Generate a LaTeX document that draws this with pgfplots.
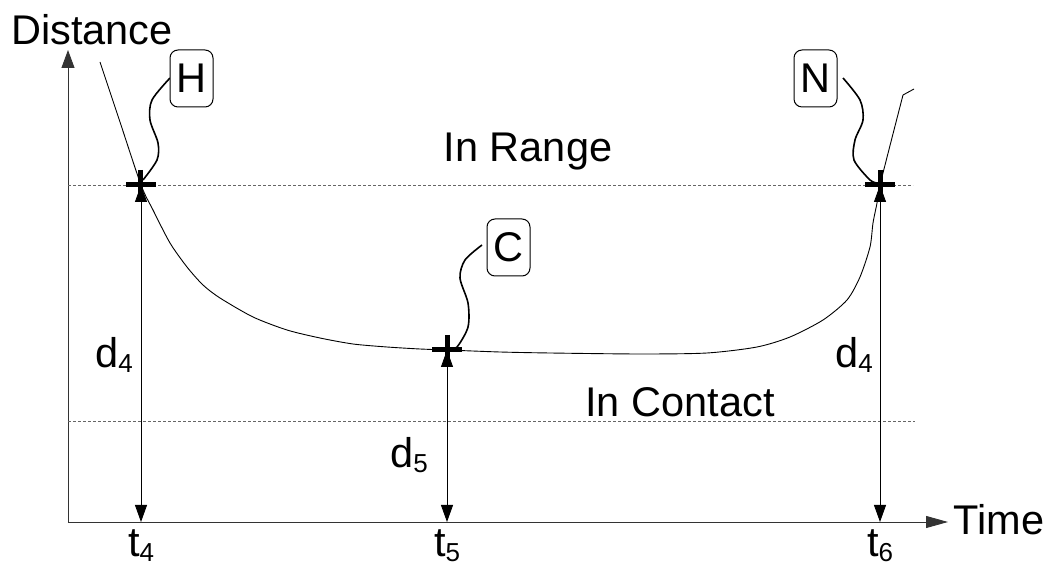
\documentclass[border=0pt]{standalone}
\usepackage{fontspec}
\setmainfont{Liberation Sans}
\usepackage{pgfplots}
\pgfplotsset{compat=1.18}
\usetikzlibrary{arrows.meta}
\newcommand{\lbl}{\fontsize{41.5}{45}\selectfont}
\newcommand{\sub}[1]{\raisebox{-0.22ex}{\fontsize{26}{26}\selectfont #1}}
\tikzset{
  dimarrow/.style={line width=0.9pt,{Triangle[length=17pt,width=12pt]}-{Triangle[length=17pt,width=12pt]}},
  callout/.style={draw,line width=1pt,rounded corners=8pt,minimum width=43pt,minimum height=57pt,inner sep=0pt,font=\lbl},
}
\begin{document}
\begin{tikzpicture}
\begin{axis}[
  x=1pt,y=1pt,
  xmin=0,xmax=880,ymin=0,ymax=472,
  axis lines=left,ticks=none,clip=false,
  axis line style={line width=0.9pt,black!80},
  x axis line style={-{Triangle[length=22pt,width=12pt]}},
  y axis line style={-{Triangle[length=18pt,width=13pt]}},
]
% zones
\addplot[densely dashed,black!60,line width=0.8pt] coordinates {(0,337)(845,337)};
\addplot[densely dashed,black!60,line width=0.8pt] coordinates {(0,101)(847,101)};
% distance curve
\addplot[black,line width=0.9pt,smooth,tension=0.45] coordinates {
  (32,460)(52,400)(73,337)(85,312)(102,279)(119,255)(135,237)(152,224)
  (185,205)(219,192)(252,184)(285,178)(319,175)(352,173)(379,172)
  (432,170)(482,169)(572,168)(639,169)(689,175)(722,185)(755,202)
  (779,222)(792,245)(802,275)(805,299)(809,319)(812,337)(835,427)};
\addplot[black,line width=0.9pt] coordinates {(835,427)(846,433)};
% dimension arrows
\draw[dimarrow] (axis cs:73,337) -- (axis cs:73,0);
\draw[dimarrow] (axis cs:379,172) -- (axis cs:379,0);
\draw[dimarrow] (axis cs:812,337) -- (axis cs:812,0);
% event crosses
\addplot[only marks,mark=+,mark size=15pt,line width=5pt] coordinates {(73,337)(379,172)(812,337)};
% callout connectors
\addplot[line width=1.6pt,smooth] coordinates {(102,444)(84,422)(82,402)(90,379)(89,362)(75,342)};
\addplot[line width=1.6pt,smooth] coordinates {(775,444)(792,422)(795,402)(787,382)(786,362)(802,342)(810,339)};
\addplot[line width=1.6pt,smooth] coordinates {(414,277)(397,262)(392,244)(400,219)(400,195)(389,175)(381,173)};
\node[callout,fill=white] at (axis cs:123.5,443.5) {H};
\node[callout,fill=white] at (axis cs:747.5,443.5) {N};
\node[callout,fill=white] at (axis cs:440.5,274.5) {C};
% texts
\node[font=\lbl] at (axis cs:24,492) {Distance};
\node[font=\lbl,anchor=west] at (axis cs:882,2) {Time};
\node[font=\lbl] at (axis cs:460,370) {In Range};
\node[font=\lbl] at (axis cs:612,120) {In Contact};
\node[font=\lbl] at (axis cs:46,167) {d\sub{4}};
\node[font=\lbl] at (axis cs:341,67) {d\sub{5}};
\node[font=\lbl] at (axis cs:786,167) {d\sub{4}};
\node[font=\lbl,anchor=base] at (axis cs:73,-35) {t\sub{4}};
\node[font=\lbl,anchor=base] at (axis cs:379,-35) {t\sub{5}};
\node[font=\lbl,anchor=base] at (axis cs:812,-35) {t\sub{6}};
\coordinate (BL) at (axis cs:-68,-45);
\coordinate (TR) at (axis cs:984,522);
\end{axis}
\pgfresetboundingbox
\path[use as bounding box] (BL) rectangle (TR);
\end{tikzpicture}
\end{document}
